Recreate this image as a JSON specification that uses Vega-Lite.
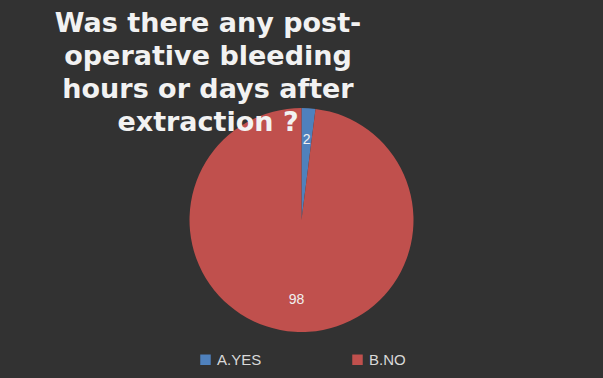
{
  "$schema": "https://vega.github.io/schema/vega-lite/v6.json",
  "width": 603,
  "height": 166,
  "autosize": {"type": "none"},
  "padding": {"left": 0, "top": 137, "right": 0, "bottom": 75},
  "background": "#323232",
  "title": {
    "text": ["Was there any post-", "operative bleeding", "hours or days after", "extraction ?"],
    "anchor": "start",
    "frame": "group",
    "align": "center",
    "dx": 208,
    "dy": 33,
    "offset": 4,
    "font": "DejaVu Sans",
    "fontWeight": "bold",
    "fontSize": 27,
    "lineHeight": 33,
    "color": "#f2f2f2"
  },
  "data": {
    "values": [
      {"answer": "A.YES", "value": 2},
      {"answer": "B.NO", "value": 98}
    ]
  },
  "encoding": {
    "theta": {"field": "value", "type": "quantitative", "stack": true},
    "order": {"field": "answer", "type": "nominal"}
  },
  "layer": [
    {
      "mark": {"type": "arc", "outerRadius": 112},
      "encoding": {
        "color": {
          "field": "answer",
          "type": "nominal",
          "scale": {"domain": ["A.YES", "B.NO"], "range": ["#4f81bd", "#c0504d"]},
          "legend": {
            "orient": "bottom",
            "direction": "horizontal",
            "title": null,
            "symbolType": "square",
            "symbolSize": 110,
            "symbolStrokeWidth": 0,
            "labelColor": "#d9d9d9",
            "labelFontSize": 15,
            "labelFont": "Liberation Sans",
            "columnPadding": 88,
            "offset": 49
          }
        }
      }
    },
    {
      "mark": {"type": "text", "radius": 80, "fontSize": 14, "font": "Liberation Sans", "color": "#f0f0f0"},
      "encoding": {
        "text": {"field": "value", "type": "quantitative"},
        "detail": {"field": "answer", "type": "nominal"}
      }
    }
  ],
  "config": {
    "view": {"stroke": null},
    "legend": {"layout": {"bottom": {"anchor": "middle"}}}
  }
}
